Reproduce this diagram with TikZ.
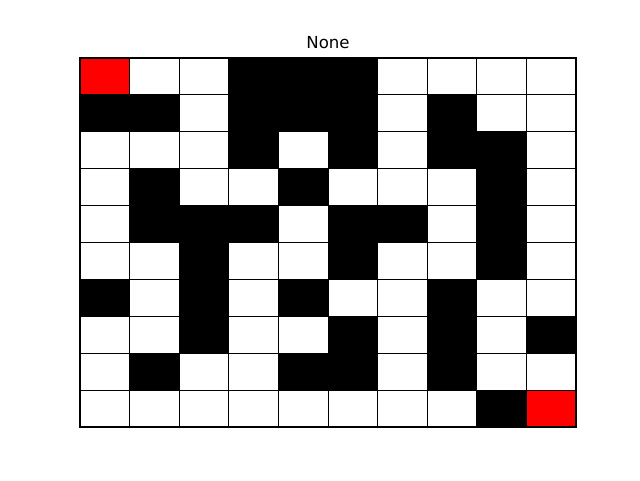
\documentclass[tikz,border=0pt]{standalone}
\usepackage{fontspec}
\setmainfont{DejaVu Sans}
\usetikzlibrary{positioning}
\definecolor{cell0}{RGB}{255,255,255}
\definecolor{cell1}{RGB}{0,0,0}
\definecolor{cell2}{RGB}{255,0,0}

\begin{document}
\begin{tikzpicture}
\useasboundingbox (0,0) rectangle (16,12);
% maze, row 0 on top: 0 free, 1 wall, 2 start/goal
\begin{scope}[shift={(2,10.55)},x=1.24cm,y=-0.9225cm]
\foreach \row [count=\r from 0] in {{2,0,0,1,1,1,0,0,0,0},{1,1,0,1,1,1,0,1,0,0},{0,0,0,1,0,1,0,1,1,0},{0,1,0,0,1,0,0,0,1,0},{0,1,1,1,0,1,1,0,1,0},{0,0,1,0,0,1,0,0,1,0},{1,0,1,0,1,0,0,1,0,0},{0,0,1,0,0,1,0,1,0,1},{0,1,0,0,1,1,0,1,0,0},{0,0,0,0,0,0,0,0,1,2}}{
  \foreach \v [count=\c from 0] in \row
    \draw[line width=0.7pt,fill=cell\v] (\c,\r) rectangle ++(1,1);
}
\draw[line width=1pt] (0,0) coordinate (gridtl) rectangle (10,10);
\end{scope}
\node[font=\fontsize{11.8}{14}\selectfont] (title) at (8.2,10.925) {None};
\end{tikzpicture}
\end{document}
